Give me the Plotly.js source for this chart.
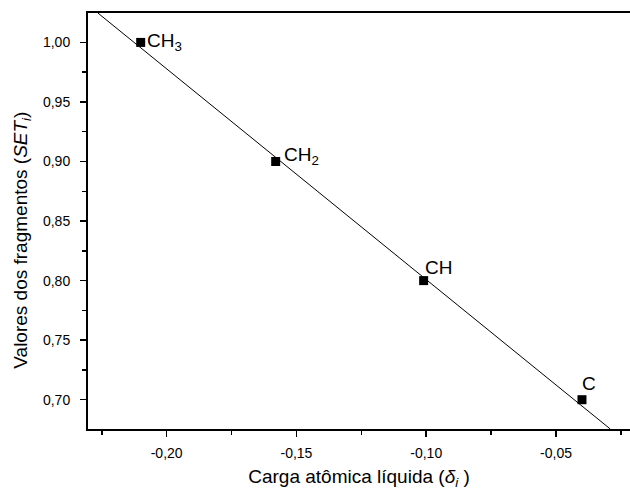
<!DOCTYPE html>
<html>
<head>
<meta charset="utf-8">
<script src="https://cdn.plot.ly/plotly-3.0.1.min.js"></script>
<style>html,body{margin:0;padding:0;background:#fff}#chart{width:630px;height:492px}</style>
</head>
<body>
<div id="chart"></div>
<script>
// Data points (fragments)
var fragments = ['CH<sub>3</sub>', 'CH<sub>2</sub>', 'CH', 'C'];
var charge = [-0.210, -0.158, -0.101, -0.040];
var setValues = [1.00, 0.90, 0.80, 0.70];
// Linear fit line endpoints
var fitX = [-0.2265, -0.0291];
var fitY = [1.0247, 0.6754];
// Ticks
var xTickVals = [-0.20, -0.15, -0.10, -0.05];
var xTickText = ['-0,20', '-0,15', '-0,10', '-0,05'];
var xMinorVals = [-0.225, -0.175, -0.125, -0.075, -0.025];
var yTickVals = [0.70, 0.75, 0.80, 0.85, 0.90, 0.95, 1.00];
var yTickText = ['0,70', '0,75', '0,80', '0,85', '0,90', '0,95', '1,00'];
var yMinorVals = [0.725, 0.775, 0.825, 0.875, 0.925, 0.975];

var FONT = 'Liberation Sans, Arial, sans-serif';

var labelPos = [
  {xanchor: 'left', yanchor: 'middle', xshift: 4, yshift: 0},
  {xanchor: 'left', yanchor: 'middle', xshift: 6, yshift: 6},
  {xanchor: 'left', yanchor: 'bottom', xshift: -1, yshift: 1},
  {xanchor: 'left', yanchor: 'bottom', xshift: -2, yshift: 4}
];

var traces = [
  {x: fitX, y: fitY, mode: 'lines', type: 'scatter',
   line: {color: '#000', width: 1}, hoverinfo: 'skip', showlegend: false},
  {x: charge, y: setValues, mode: 'markers', type: 'scatter',
   marker: {symbol: 'square', size: 9, color: '#000'}, showlegend: false}
];

var annotations = fragments.map(function (f, i) {
  return Object.assign({
    x: charge[i], y: setValues[i], xref: 'x', yref: 'y', text: f,
    showarrow: false, font: {family: FONT, size: 19, color: '#000'}
  }, labelPos[i]);
});

annotations.push({
  xref: 'paper', yref: 'paper', x: -0.1218, y: 0.455,
  xanchor: 'center', yanchor: 'middle', textangle: -90, showarrow: false,
  text: 'Valores dos fragmentos (<i>SET</i><sub><i>i</i></sub>)',
  font: {family: FONT, size: 19, color: '#000'}
});

var layout = {
  width: 630, height: 492,
  margin: {l: 88, r: 0, t: 13, b: 63, pad: 0},
  paper_bgcolor: '#fff', plot_bgcolor: '#fff',
  font: {family: FONT, size: 14, color: '#000'},
  showlegend: false,
  xaxis: {
    range: [-0.2303, -0.0215],
    tickmode: 'array', tickvals: xTickVals, ticktext: xTickText,
    ticks: 'outside', ticklen: 6, tickwidth: 1.5, tickcolor: '#000',
    ticklabelstandoff: 4,
    minor: {tickmode: 'array', tickvals: xMinorVals, ticks: 'outside', ticklen: 4, tickwidth: 1.5, tickcolor: '#000', showgrid: false},
    showline: true, linewidth: 2, linecolor: '#000', mirror: true,
    showgrid: false, zeroline: false,
    tickfont: {size: 14},
    title: {text: 'Carga atômica líquida (<i>δ</i><sub><i>i</i></sub> )', font: {size: 19}, standoff: 10}
  },
  yaxis: {
    range: [0.6754, 1.0247],
    tickmode: 'array', tickvals: yTickVals, ticktext: yTickText,
    ticks: 'outside', ticklen: 6, tickwidth: 1.5, tickcolor: '#000',
    ticklabelstandoff: 7,
    minor: {tickmode: 'array', tickvals: yMinorVals, ticks: 'outside', ticklen: 4, tickwidth: 1.5, tickcolor: '#000', showgrid: false},
    showline: true, linewidth: 2, linecolor: '#000', mirror: false,
    showgrid: false, zeroline: false,
    tickfont: {size: 14}
  },
  annotations: annotations
};

Plotly.newPlot('chart', traces, layout, {displayModeBar: false, staticPlot: true});
</script>
</body>
</html>
